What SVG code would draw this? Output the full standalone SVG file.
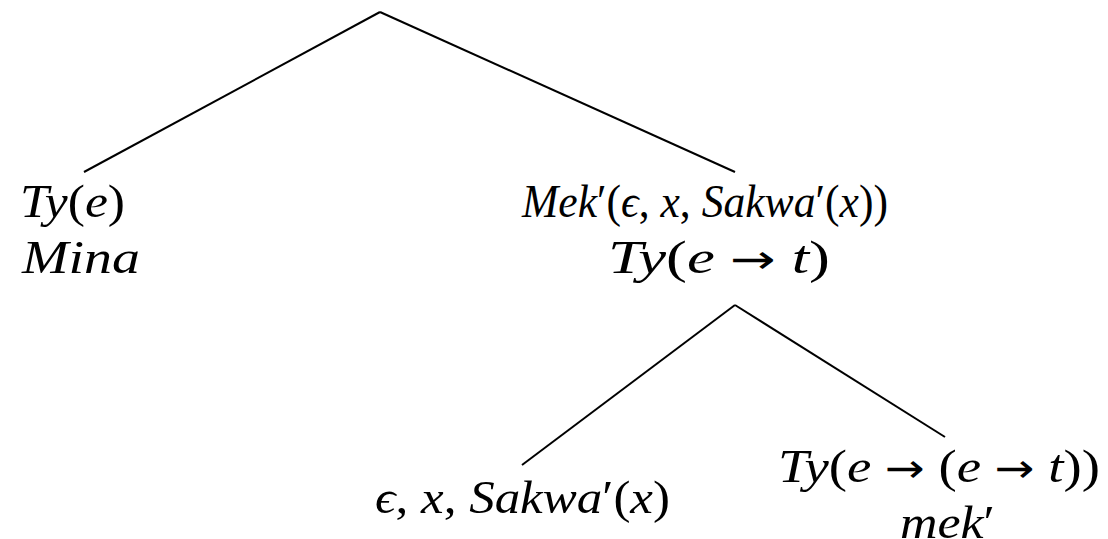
<svg xmlns="http://www.w3.org/2000/svg" width="1108" height="539" viewBox="0 0 1108 539">
<style>
text{font-family:"Liberation Serif","Times New Roman",serif;font-size:46px;fill:#000}
.i{font-style:italic}
.a{font-family:"DejaVu Sans",sans-serif;font-size:40px}
.e{stroke:#000;stroke-width:2;fill:none}
</style>
<rect width="1108" height="539" fill="#fff"/>
<g id="connectors">
<line class="e" x1="380" y1="12" x2="84" y2="172"/>
<line class="e" x1="380" y1="12" x2="735" y2="172"/>
<line class="e" x1="735" y1="305" x2="522" y2="465"/>
<line class="e" x1="735" y1="305" x2="945" y2="437"/>
</g>
<g id="node-left">
<text x="20" y="217" textLength="105" lengthAdjust="spacingAndGlyphs"><tspan class="i">Ty</tspan>(<tspan class="i">e</tspan>)</text>
<text x="22" y="273" textLength="118" lengthAdjust="spacingAndGlyphs" class="i">Mina</text>
</g>
<g id="node-right">
<text x="522" y="217" textLength="366" lengthAdjust="spacingAndGlyphs"><tspan class="i">Mek</tspan>′(<tspan class="i">ϵ</tspan>, <tspan class="i">x</tspan>, <tspan class="i">Sakwa</tspan>′(<tspan class="i">x</tspan>))</text>
<text x="608" y="273" textLength="222" lengthAdjust="spacingAndGlyphs"><tspan class="i">Ty</tspan>(<tspan class="i">e</tspan> <tspan class="a">→</tspan> <tspan class="i">t</tspan>)</text>
</g>
<g id="node-arg">
<text x="375" y="513" textLength="295" lengthAdjust="spacingAndGlyphs"><tspan class="i">ϵ</tspan>, <tspan class="i">x</tspan>, <tspan class="i">Sakwa</tspan>′(<tspan class="i">x</tspan>)</text>
</g>
<g id="node-fn">
<text x="778" y="482" textLength="322" lengthAdjust="spacingAndGlyphs"><tspan class="i">Ty</tspan>(<tspan class="i">e</tspan> <tspan class="a">→</tspan> (<tspan class="i">e</tspan> <tspan class="a">→</tspan> <tspan class="i">t</tspan>))</text>
<text x="900" y="538" textLength="95" lengthAdjust="spacingAndGlyphs"><tspan class="i">mek</tspan>′</text>
</g>
</svg>
